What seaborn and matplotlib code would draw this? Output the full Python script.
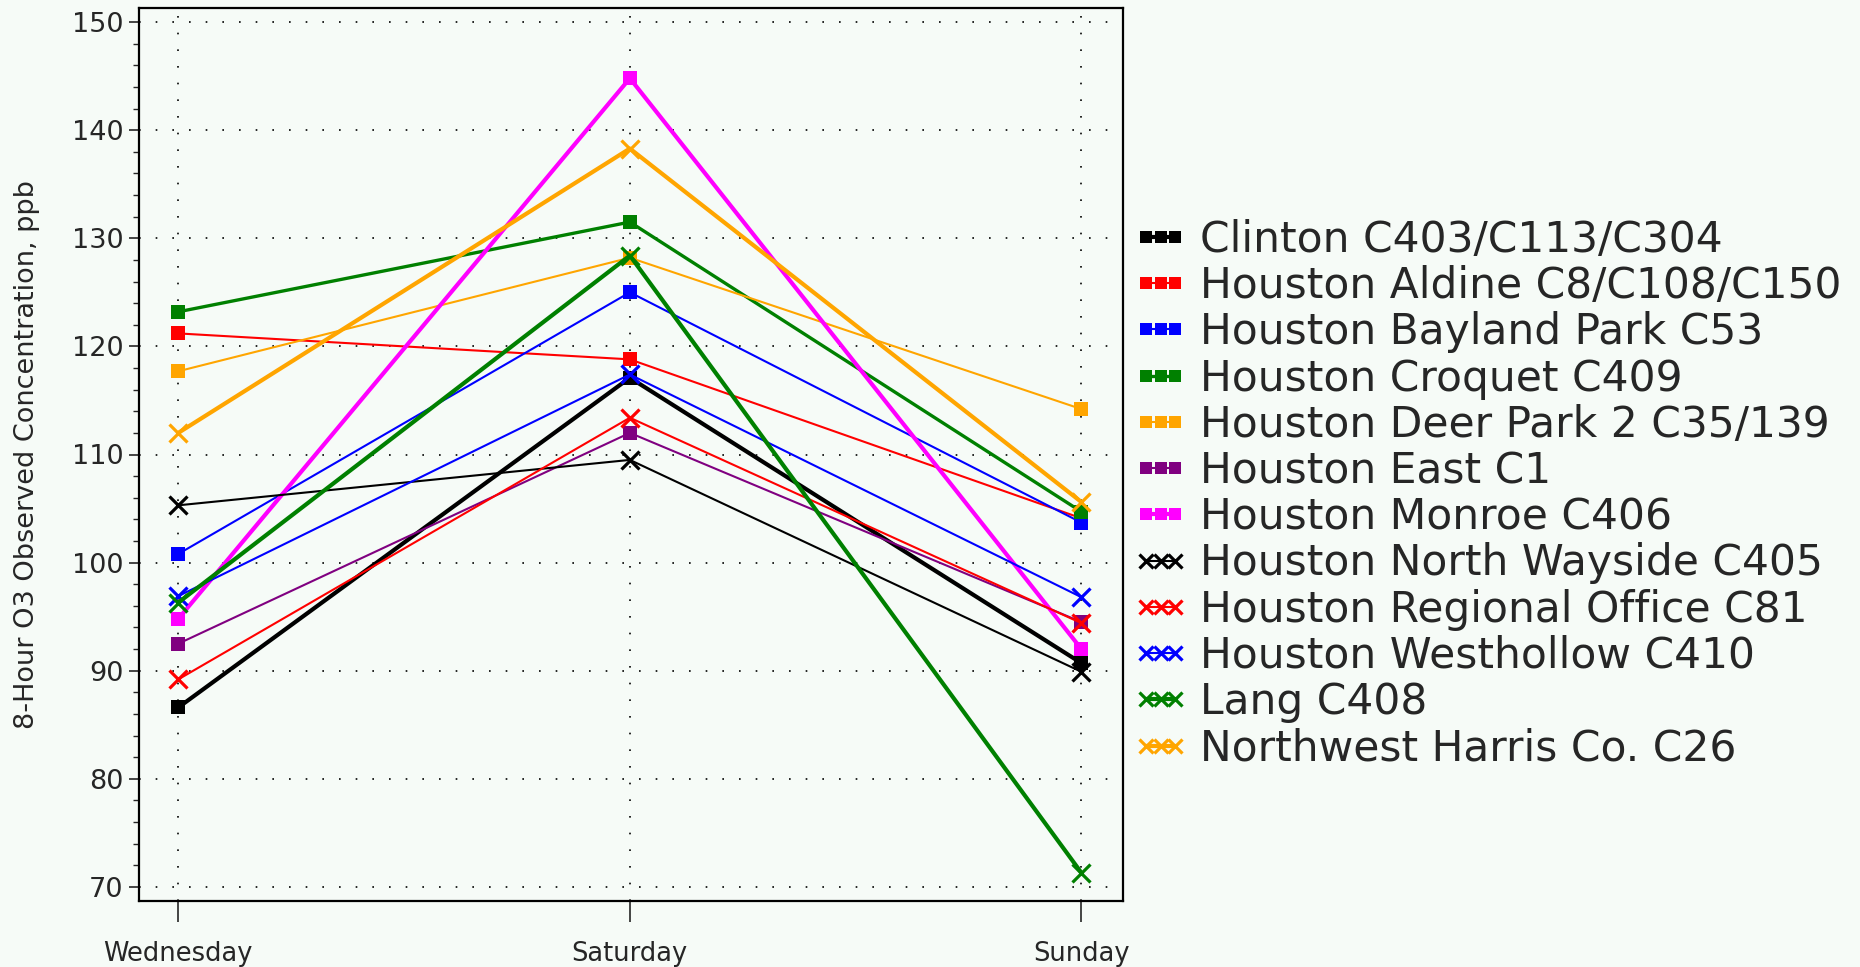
import pandas as pd
import seaborn as sns
import matplotlib
matplotlib.use("Agg")
import matplotlib.pyplot as plt
from matplotlib.ticker import MultipleLocator

# Data
days = ["Wednesday", "Saturday", "Sunday"]

stations = [
    "Clinton C403/C113/C304",
    "Houston Aldine C8/C108/C150",
    "Houston Bayland Park C53",
    "Houston Croquet C409",
    "Houston Deer Park 2 C35/139",
    "Houston East C1",
    "Houston Monroe C406",
    "Houston North Wayside C405",
    "Houston Regional Office C81",
    "Houston Westhollow C410",
    "Lang C408",
    "Northwest Harris Co. C26",
]

clinton = [86.6, 117.1, 90.7]
aldine = [121.2, 118.8, 104.1]
bayland = [100.8, 125.0, 103.7]
croquet = [123.2, 131.5, 104.7]
deer_park = [117.7, 128.2, 114.2]
east = [92.5, 112.0, 94.5]
monroe = [94.8, 144.8, 92.0]
north_wayside = [105.3, 109.5, 89.9]
regional = [89.2, 113.4, 94.4]
westhollow = [96.9, 117.4, 96.8]
lang = [96.3, 128.4, 71.3]
nw_harris = [112.0, 138.3, 105.6]

values = [clinton, aldine, bayland, croquet, deer_park, east, monroe,
          north_wayside, regional, westhollow, lang, nw_harris]

colors = ["black", "#ff0000", "#0000ff", "#008000", "#ffa500", "#800080",
          "#ff00ff", "black", "#ff0000", "#0000ff", "#008000", "#ffa500"]
markers = ["s"] * 7 + ["x"] * 5
widths = [3.0, 1.5, 1.5, 2.4, 1.5, 1.5, 3.0, 1.5, 1.5, 1.5, 3.0, 3.0]

bg = "#f6fbf7"
sns.set_style("ticks")
plt.rcParams["font.family"] = ["DejaVu Sans"]

fig = plt.figure(figsize=(18.6, 9.67), dpi=100, facecolor=bg)
ax = fig.add_axes([139 / 1860, 1 - 901 / 967, (1123 - 139) / 1860, (901 - 8) / 967])
ax.set_facecolor(bg)

for name, vals, c, m, lw in zip(stations, values, colors, markers, widths):
    df = pd.DataFrame({"day": days, "conc": vals})
    if m == "s":
        sns.lineplot(data=df, x="day", y="conc", sort=False, ax=ax, color=c, lw=lw,
                     marker="s", markersize=10.5, markeredgewidth=0, label=name)
    else:
        sns.lineplot(data=df, x="day", y="conc", sort=False, ax=ax, color=c, lw=lw,
                     marker="x", markersize=12.5, markeredgewidth=2.3,
                     markeredgecolor=c, label=name)

ax.set_xlim(-0.087, 2.092)
ax.set_ylim(68.7, 151.3)
ax.yaxis.set_major_locator(MultipleLocator(10))
ax.yaxis.set_minor_locator(MultipleLocator(2))

ax.grid(True, which="major", color="black", linestyle=(0, (1, 9)), lw=1.2)
for s in ax.spines.values():
    s.set_linewidth(1.6)
    s.set_color("black")

ax.tick_params(axis="x", length=15, width=1.2, pad=14, labelsize=18.5, direction="out")
ax.tick_params(axis="y", which="major", length=7, width=1.2, pad=4, labelsize=19.5)
ax.tick_params(axis="y", which="minor", length=4, width=1.0)

ax.set_xlabel("")
ax.set_ylabel("8-Hour O3 Observed Concentration, ppb", fontsize=19.5)
ax.yaxis.set_label_coords((40 - 139) / 984, 0.5)

handles, labels = ax.get_legend_handles_labels()
ax.legend(handles, labels, loc="center left", bbox_to_anchor=(1133 / 1860, 0.489),
          bbox_transform=fig.transFigure, frameon=False, fontsize=30.5, numpoints=3,
          handlelength=1.3, handletextpad=0.28, labelspacing=0.1, borderpad=0,
          borderaxespad=0, markerscale=0.8)

fig.savefig("out.png", dpi=100, facecolor=bg)
